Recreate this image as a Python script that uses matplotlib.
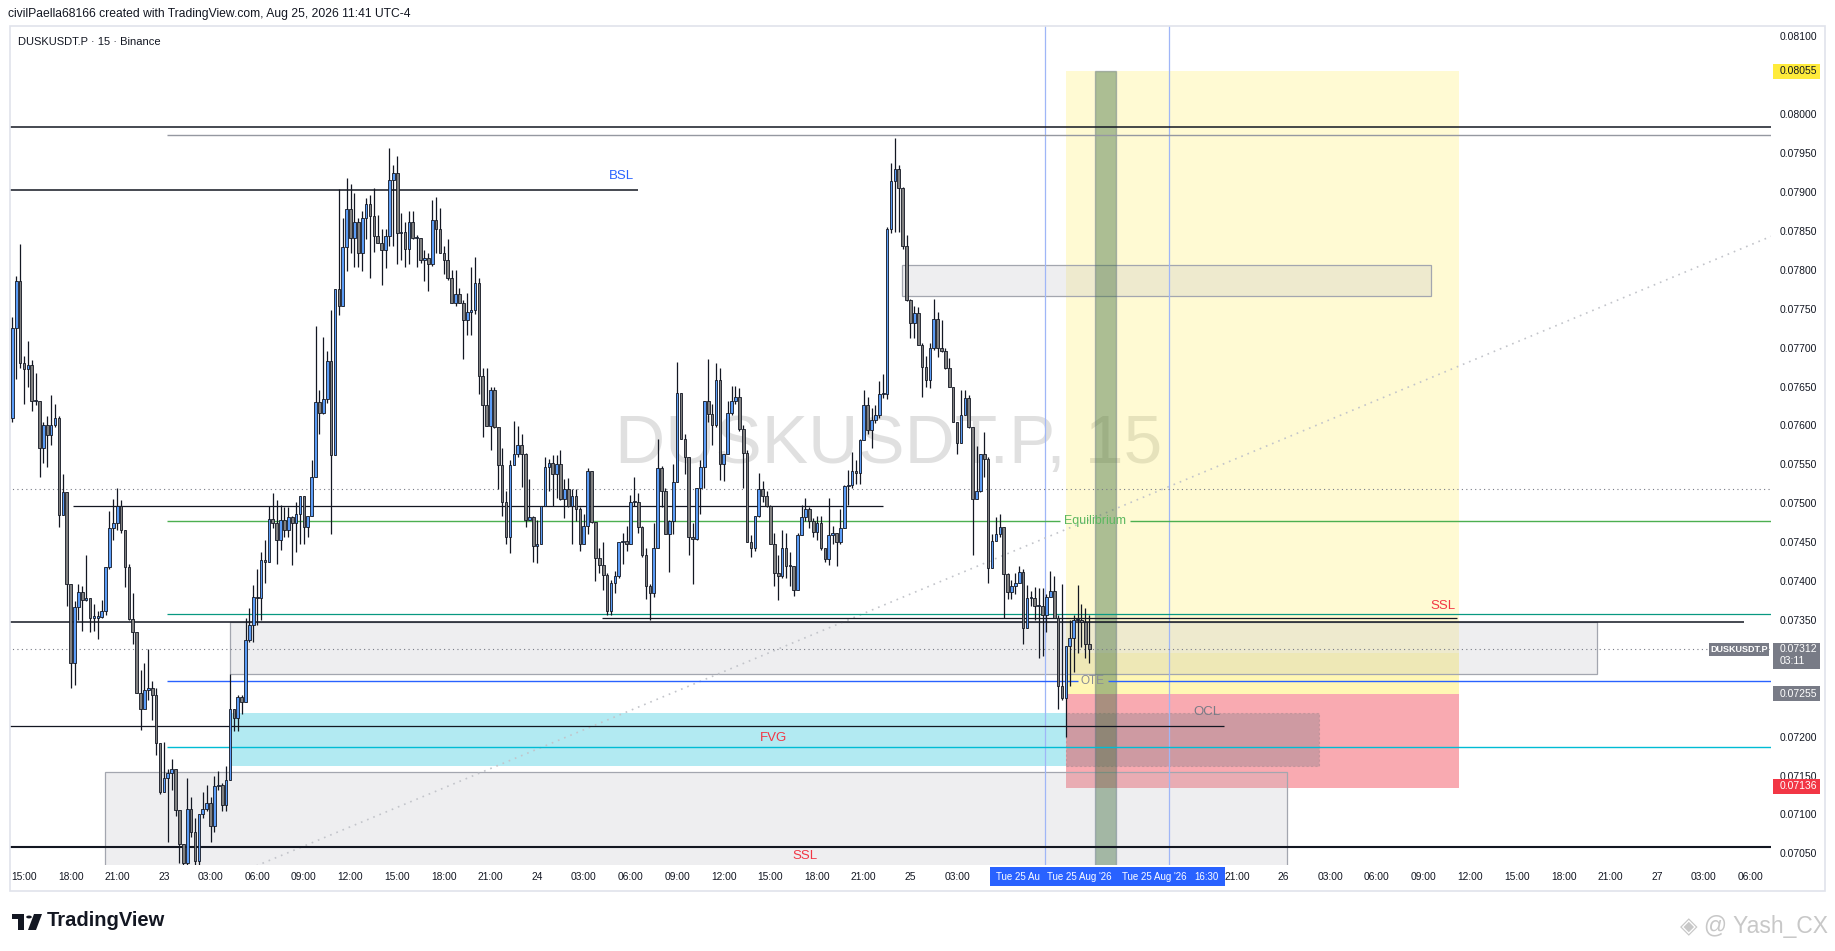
import numpy as np
import pandas as pd
import matplotlib.pyplot as plt
import matplotlib.transforms as mtransforms
from matplotlib.patches import Rectangle, Polygon, Circle

plt.rcParams['font.family'] = ['Liberation Sans', 'DejaVu Sans']

# DUSKUSDT.P 15 min candles, prices in ticks of 0.00001, first bar 22 Aug 14:15
open_first = 7609
close = [
    7725, 7786, 7680, 7672, 7678, 7631, 7632, 7571, 7601, 7588,
    7600, 7609, 7485, 7514, 7396, 7295, 7366, 7386, 7375, 7378,
    7353, 7353, 7354, 7361, 7418, 7468, 7475, 7497, 7465, 7418,
    7351, 7334, 7256, 7235, 7260, 7262, 7253, 7192, 7129, 7147,
    7153, 7158, 7106, 7062, 7038, 7107, 7077, 7040, 7101, 7107,
    7115, 7085, 7136, 7138, 7112, 7144, 7235, 7224, 7251, 7245,
    7324, 7344, 7380, 7378, 7427, 7425, 7480, 7475, 7453, 7478,
    7465, 7482, 7475, 7486, 7509, 7469, 7484, 7534, 7630, 7616,
    7634, 7683, 7562, 7775, 7754, 7829, 7878, 7841, 7861, 7821,
    7866, 7885, 7869, 7843, 7835, 7825, 7844, 7915, 7924, 7847,
    7849, 7827, 7862, 7841, 7841, 7812, 7815, 7807, 7864, 7853,
    7821, 7812, 7790, 7757, 7769, 7758, 7735, 7746, 7748, 7783,
    7663, 7626, 7599, 7646, 7598, 7549, 7501, 7456, 7549, 7563,
    7575, 7563, 7478, 7482, 7445, 7447, 7497, 7546, 7552, 7537,
    7551, 7505, 7518, 7497, 7509, 7492, 7448, 7471, 7542, 7476,
    7430, 7420, 7408, 7362, 7397, 7407, 7450, 7451, 7447, 7501,
    7501, 7469, 7433, 7393, 7385, 7442, 7545, 7516, 7460, 7477,
    7527, 7642, 7582, 7559, 7456, 7454, 7519, 7546, 7631, 7615,
    7601, 7658, 7551, 7563, 7616, 7631, 7636, 7595, 7564, 7450,
    7442, 7484, 7518, 7509, 7497, 7447, 7410, 7407, 7443, 7419,
    7419, 7388, 7459, 7482, 7492, 7477, 7463, 7475, 7442, 7428,
    7459, 7462, 7450, 7468, 7522, 7524, 7542, 7539, 7581, 7626,
    7594, 7607, 7613, 7640, 7640, 7853, 7914, 7930, 7905, 7831,
    7761, 7732, 7744, 7704, 7675, 7658, 7699, 7737, 7699, 7696,
    7674, 7649, 7604, 7577, 7613, 7635, 7598, 7506, 7516, 7563,
    7557, 7417, 7451, 7460, 7470, 7409, 7386, 7393, 7398, 7411,
    7339, 7378, 7378, 7368, 7368, 7356, 7380, 7387, 7353, 7265,
    7250, 7316, 7327, 7350, 7350, 7347, 7319, 7312]
high = [
    7740, 7792, 7833, 7689, 7709, 7684, 7667, 7632, 7604, 7612,
    7639, 7628, 7612, 7537, 7513, 7396, 7374, 7396, 7393, 7433,
    7378, 7371, 7362, 7375, 7418, 7490, 7506, 7519, 7504, 7465,
    7422, 7384, 7334, 7285, 7295, 7313, 7272, 7262, 7192, 7193,
    7159, 7171, 7158, 7106, 7062, 7147, 7123, 7095, 7101, 7129,
    7138, 7123, 7150, 7156, 7141, 7162, 7280, 7235, 7253, 7253,
    7353, 7365, 7395, 7416, 7437, 7453, 7497, 7513, 7504, 7498,
    7495, 7495, 7484, 7501, 7509, 7509, 7484, 7555, 7728, 7646,
    7714, 7696, 7749, 7775, 7904, 7867, 7918, 7910, 7899, 7867,
    7875, 7892, 7896, 7905, 7870, 7852, 7852, 7957, 7935, 7946,
    7873, 7861, 7875, 7876, 7845, 7841, 7825, 7822, 7890, 7893,
    7879, 7831, 7840, 7800, 7800, 7777, 7761, 7770, 7804, 7816,
    7789, 7674, 7674, 7649, 7649, 7598, 7571, 7516, 7555, 7606,
    7599, 7589, 7565, 7531, 7483, 7478, 7497, 7559, 7557, 7562,
    7562, 7569, 7531, 7532, 7518, 7518, 7495, 7486, 7545, 7539,
    7476, 7443, 7450, 7410, 7401, 7413, 7450, 7462, 7471, 7510,
    7534, 7513, 7471, 7443, 7396, 7474, 7583, 7548, 7519, 7478,
    7551, 7681, 7642, 7589, 7554, 7474, 7519, 7555, 7631, 7686,
    7628, 7680, 7674, 7563, 7631, 7651, 7651, 7648, 7601, 7569,
    7459, 7484, 7539, 7528, 7516, 7498, 7462, 7434, 7465, 7462,
    7437, 7419, 7462, 7498, 7507, 7495, 7481, 7483, 7483, 7440,
    7507, 7471, 7460, 7492, 7524, 7543, 7566, 7555, 7583, 7646,
    7637, 7622, 7626, 7657, 7666, 7855, 7937, 7970, 7935, 7907,
    7845, 7763, 7754, 7752, 7706, 7689, 7706, 7763, 7746, 7736,
    7700, 7687, 7649, 7604, 7646, 7645, 7639, 7598, 7574, 7563,
    7592, 7559, 7460, 7482, 7486, 7470, 7410, 7401, 7410, 7419,
    7415, 7395, 7387, 7392, 7391, 7391, 7383, 7413, 7407, 7356,
    7396, 7316, 7350, 7356, 7395, 7371, 7365, 7356]
low = [
    7604, 7660, 7674, 7628, 7649, 7619, 7626, 7534, 7552, 7546,
    7575, 7598, 7470, 7490, 7368, 7263, 7266, 7350, 7336, 7374,
    7334, 7336, 7325, 7353, 7356, 7416, 7453, 7465, 7462, 7392,
    7350, 7319, 7256, 7209, 7235, 7247, 7222, 7177, 7126, 7129,
    7065, 7132, 7098, 7038, 7023, 7035, 7071, 7032, 7035, 7095,
    7104, 7065, 7077, 7132, 7104, 7104, 7144, 7207, 7207, 7229,
    7244, 7321, 7322, 7344, 7350, 7398, 7425, 7468, 7422, 7440,
    7456, 7456, 7421, 7437, 7448, 7448, 7456, 7488, 7534, 7589,
    7615, 7629, 7460, 7562, 7742, 7755, 7798, 7821, 7804, 7803,
    7798, 7840, 7789, 7823, 7834, 7780, 7802, 7831, 7831, 7808,
    7813, 7804, 7807, 7839, 7804, 7809, 7786, 7773, 7805, 7821,
    7821, 7795, 7787, 7757, 7754, 7757, 7686, 7716, 7716, 7743,
    7641, 7585, 7599, 7569, 7597, 7518, 7483, 7448, 7436, 7549,
    7560, 7521, 7469, 7478, 7424, 7423, 7447, 7497, 7516, 7496,
    7507, 7504, 7481, 7495, 7448, 7477, 7439, 7448, 7460, 7474,
    7400, 7410, 7389, 7356, 7356, 7384, 7404, 7422, 7439, 7447,
    7496, 7462, 7431, 7377, 7350, 7379, 7442, 7495, 7460, 7411,
    7460, 7527, 7582, 7537, 7434, 7396, 7453, 7486, 7519, 7605,
    7575, 7598, 7530, 7528, 7563, 7613, 7628, 7593, 7520, 7450,
    7431, 7439, 7482, 7501, 7495, 7447, 7394, 7376, 7404, 7404,
    7394, 7381, 7388, 7459, 7477, 7468, 7456, 7453, 7440, 7425,
    7421, 7447, 7419, 7448, 7468, 7498, 7519, 7525, 7525, 7581,
    7589, 7571, 7603, 7609, 7635, 7634, 7847, 7849, 7849, 7827,
    7760, 7713, 7713, 7704, 7636, 7649, 7648, 7697, 7688, 7695,
    7672, 7649, 7604, 7563, 7577, 7613, 7597, 7433, 7506, 7514,
    7534, 7397, 7417, 7451, 7456, 7353, 7377, 7377, 7383, 7398,
    7319, 7339, 7368, 7350, 7301, 7304, 7334, 7379, 7353, 7235,
    7247, 7199, 7265, 7283, 7307, 7315, 7301, 7295]

# drawn levels (price)
top_line = 0.07983
top_gray = 0.07973
bsl = 0.07903
dotted_high = 0.07518
mid_black = 0.07497
equilibrium = 0.07477
teal_level = 0.07358
ssl_line = 0.07352
ssl_black = 0.07347
last_price = 0.07312
ote = 0.07272
ocl_line = 0.07214
cyan_level = 0.07187
bottom_line = 0.07058
target = 0.08055
entry = 0.07255
stop = 0.07134

t0 = pd.Timestamp('2026-08-22 14:15')


def bar(ts):
    return (pd.Timestamp(ts) - t0) / pd.Timedelta('15min')


W, H = 1835, 951
fig = plt.figure(figsize=(W / 100, H / 100), dpi=100)
fig.patch.set_facecolor('white')


def fx(x):
    return x / W


def fy(y):
    return 1 - y / H


ax = fig.add_axes([fx(10), fy(865), (1771 - 10) / W, (865 - 26) / H])
ax.set_xlim(-0.59, 452.35)
ax.set_ylim(0.070350, 0.081134)
ax.set_facecolor('white')
for s in ax.spines.values():
    s.set_visible(False)
dpp = (0.081134 - 0.070350) / (865 - 26)
XR = 460

# watermark
ax.text(225.5, 0.07575, 'DUSKUSDT.P, 15', fontsize=50, color='#e0e0e0',
        ha='center', va='center', zorder=0.5)

# zones
def box(x0, x1, p0, p1, **kw):
    ax.add_patch(Rectangle((x0, p0), x1 - x0, p1 - p0, **kw))

box(bar('2026-08-25 10:00'), bar('2026-08-26 11:15'), entry, target,
    facecolor='#ffeb3b', alpha=0.22, edgecolor='none', zorder=1)
box(bar('2026-08-25 10:00'), bar('2026-08-26 11:15'), entry, 0.07308,
    facecolor='#ffeb3b', alpha=0.2, edgecolor='none', zorder=1)
box(bar('2026-08-25 10:00'), bar('2026-08-26 11:15'), stop, entry,
    facecolor='#f23645', alpha=0.42, edgecolor='none', zorder=1)
box(56.5, bar('2026-08-25 10:00'), 0.07162, 0.07230,
    facecolor='#00bcd4', alpha=0.3, edgecolor='none', zorder=1.2)
gray_kw = dict(facecolor='#b2b5be', alpha=0.22, edgecolor='none', zorder=1.3)
for (x0, x1, p0, p1) in [(228.8, 364.9, 0.07767, 0.07806),
                         (56.0, 407.6, 0.07281, 0.07347),
                         (23.8, 327.9, 0.0700, 0.07154)]:
    box(x0, x1, p0, p1, **gray_kw)
    box(x0, x1, p0, p1, facecolor='none', edgecolor='#a3a6af', lw=0.9, zorder=1.4)
box(bar('2026-08-25 10:00'), 336.1, 0.07162, 0.07230,
    facecolor='#787b86', alpha=0.33, edgecolor='#8a7a80', lw=0.8,
    linestyle=(0, (2, 2)), zorder=1.5)
box(bar('2026-08-25 11:45') + 0.5, bar('2026-08-25 13:15'), 0.0700, target,
    facecolor='#3b6b3b', alpha=0.42, edgecolor='#5d6f86', lw=1.0, zorder=2.5)

# vertical time markers
for t in ['2026-08-25 08:30', '2026-08-25 16:30']:
    ax.axvline(bar(t) + 0.6, color='#9fb6f7', lw=0.9, zorder=2)

# horizontal lines
def hl(p, x0, x1, **kw):
    ax.hlines(p, x0, x1, zorder=3, **kw)

hl(top_line, -1, XR, color='#131722', lw=1.1)
hl(top_gray, 39.8, XR, color='#9598a1', lw=1.0)
hl(bsl, -1, 160.9, color='#131722', lw=1.1)
hl(dotted_high, -1, XR, color='#787b86', lw=0.8, linestyles=(0, (1, 3)))
hl(mid_black, 15.6, 224, color='#131722', lw=0.9)
hl(equilibrium, 39.8, 269.5, color='#4caf50', lw=1.0)
hl(equilibrium, 287.5, XR, color='#4caf50', lw=1.0)
hl(teal_level, 39.8, XR, color='#089981', lw=0.9)
hl(ssl_line, 151.7, 371.6, color='#131722', lw=0.9)
hl(ssl_black, -1, 445.4, color='#131722', lw=1.1)
hl(last_price, -1, XR, color='#787b86', lw=0.8, linestyles=(0, (1, 3)))
hl(ote, 39.8, 274.0, color='#2962ff', lw=1.0)
hl(ote, 281.8, XR, color='#2962ff', lw=1.0)
hl(ocl_line, -1, 311.6, color='#131722', lw=0.9)
hl(cyan_level, 39.8, XR, color='#00bcd4', lw=1.0)
hl(bottom_line, -1, XR, color='#131722', lw=1.5)

# dotted fib trend line
ax.plot([58.0, 452.35], [0.07024, 0.07843], color='#c2c4ca', lw=1.2,
        linestyle=(0, (1, 3)), zorder=2)

# candles
c = np.array(close) * 1e-5
o = np.concatenate([[open_first * 1e-5], c[:-1]])
hi = np.maximum(np.array(high) * 1e-5, np.maximum(o, c))
lo = np.minimum(np.array(low) * 1e-5, np.minimum(o, c))
x = np.arange(len(c))
up = c >= o
ax.vlines(x, lo, hi, color='#131722', lw=0.9, zorder=5)
ax.bar(x, np.maximum(np.abs(c - o), 0.000015), 0.68, bottom=np.minimum(o, c),
       color=np.where(up, '#5b9cf6', '#7f7f7f'), edgecolor='#131722',
       linewidth=0.6, zorder=6)

# labels on the chart
ax.text(156.6, 0.07920, 'BSL', color='#2962ff', fontsize=9.5, ha='center', va='center', zorder=7)
ax.text(195.7, 0.07198, 'FVG', color='#f23645', fontsize=9.5, ha='center', va='center', zorder=7)
ax.text(204.0, 0.07046, 'SSL', color='#f23645', fontsize=9.5, ha='center', va='center', zorder=7)
ax.text(368.0, 0.07368, 'SSL', color='#f23645', fontsize=9.5, ha='center', va='center', zorder=7)
ax.text(278.5, equilibrium, 'Equilibrium', color='#5cb860', fontsize=9, ha='center', va='center', zorder=7)
ax.text(277.8, ote, 'OTE', color='#8a8d96', fontsize=8.5, ha='center', va='center', zorder=7)
ax.text(307.3, 0.07232, 'OCL', color='#787b86', fontsize=9.5, ha='center', va='center', zorder=7)

# price axis
ticks = [0.081, 0.080, 0.0795, 0.079, 0.0785, 0.078, 0.0775, 0.077, 0.0765, 0.076,
         0.0755, 0.075, 0.0745, 0.074, 0.0735, 0.072, 0.0715, 0.071, 0.0705]
ax.yaxis.tick_right()
ax.set_yticks(ticks, ['%.5f' % t for t in ticks])
ax.tick_params(axis='y', length=0, pad=6.5, labelsize=7.5, labelcolor='#131722')

tr = mtransforms.blended_transform_factory(fig.transFigure, ax.transData)


def tag(p, txt, fc, tc, up_px=7.5, dn_px=7.5, x0=1773, x1=1820, tx=1780):
    ax.add_patch(Rectangle((fx(x0), p - dn_px * dpp), (x1 - x0) / W, (up_px + dn_px) * dpp,
                           transform=tr, facecolor=fc, edgecolor='none', clip_on=False, zorder=10))
    ax.text(fx(tx), p, txt, transform=tr, color=tc, fontsize=7.5, va='center',
            ha='left', clip_on=False, zorder=11)


tag(target, '0.08055', '#ffeb3b', '#131722')
tag(last_price, '0.07312', '#787b86', 'white', up_px=6, dn_px=20)
ax.text(fx(1780), last_price - 12 * dpp, '03:11', transform=tr, color='white',
        fontsize=7.5, va='center', ha='left', zorder=11)
tag(entry, '0.07255', '#787b86', 'white')
tag(stop + 0.00002, '0.07136', '#f23645', 'white')
ax.add_patch(Rectangle((fx(1709), last_price - 6.5 * dpp), 60 / W, 13 * dpp, transform=tr,
                       facecolor='#787b86', edgecolor='none', clip_on=False, zorder=10))
ax.text(fx(1739), last_price, 'DUSKUSDT.P', transform=tr, color='white', fontsize=6.5,
        fontweight='bold', ha='center', va='center', zorder=11)

# time axis
tick_times = [t for t in pd.date_range('2026-08-22 15:00', '2026-08-27 06:00', freq='3h')
              if not (pd.Timestamp('2026-08-25 05:00') < t < pd.Timestamp('2026-08-25 20:00'))]
ax.set_xticks([bar(t) for t in tick_times],
              [str(t.day) if t.hour == 0 else t.strftime('%H:%M') for t in tick_times])
ax.tick_params(axis='x', length=0, pad=5, labelsize=7.4, labelcolor='#131722')

fig.patches.append(Rectangle((fx(990), fy(886)), 235 / W, 19 / H, transform=fig.transFigure,
                             facecolor='#2962ff', edgecolor='none', zorder=5))
for xp, txt in [(1018, 'Tue 25 Au'), (1079, "Tue 25 Aug '26"), (1154, "Tue 25 Aug '26"),
                (1206, '16:30')]:
    fig.text(fx(xp), fy(877), txt, color='white', fontsize=7, ha='center', va='center', zorder=6)

# pane frame
fig.patches.append(Rectangle((fx(10), fy(891)), 1815 / W, 865 / H, transform=fig.transFigure,
                             fill=False, edgecolor='#e0e3eb', lw=1.2))

# header
fig.text(fx(8), fy(14), 'civilPaella68166 created with TradingView.com, Aug 25, 2026 11:41 UTC-4',
         fontsize=8.7, color='#131722', va='center')
fig.text(fx(18), fy(42), 'DUSKUSDT.P \u00b7 15 \u00b7 Binance', fontsize=8, color='#131722',
         va='center')

# footer logo
logo_kw = dict(transform=fig.transFigure, facecolor='#131722', edgecolor='none')
fig.patches.append(Rectangle((fx(12), fy(919)), 12 / W, 5 / H, **logo_kw))
fig.patches.append(Rectangle((fx(18), fy(930)), 6 / W, 16 / H, **logo_kw))
fig.patches.append(Circle((fx(29), fy(917)), 2.8 / W, **logo_kw))
fig.patches.append(Polygon([(fx(34), fy(914)), (fx(42), fy(914)), (fx(36), fy(930)),
                            (fx(28), fy(930))], closed=True, **logo_kw))
fig.text(fx(47), fy(921), 'TradingView', fontsize=14.5, fontweight='bold', color='#131722',
         va='center')
fig.text(fx(1828), fy(927), '\u25c8 @ Yash_CX', fontsize=16.5, color='#c8c8c8', ha='right',
         va='center')

fig.savefig('out.png', dpi=100)
